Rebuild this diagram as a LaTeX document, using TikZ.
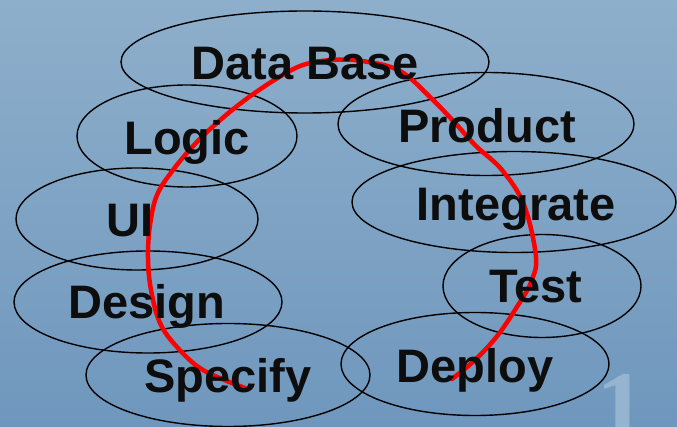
\documentclass[tikz,border=0pt]{standalone}
\usepackage{fontspec}
\setmainfont{Liberation Sans}
\newfontfamily\numfont{Liberation Serif}
\usetikzlibrary{shapes.geometric}
\definecolor{bgtop}{HTML}{8EAFCB}
\definecolor{bgbot}{HTML}{6F97BD}
\definecolor{numcol}{HTML}{95B4D0}
\begin{document}
\begin{tikzpicture}[x=1pt,y=-1pt,
  ring/.style={draw=black,line width=1.4pt,ellipse,inner sep=0pt},
  word/.style={anchor=base,inner sep=0pt,font=\fontsize{47}{47}\selectfont\bfseries,text=black!95}]
\useasboundingbox (0,0) rectangle (677,427);
\shade[top color=bgtop,bottom color=bgbot] (0,0) rectangle (677,427);
\node[anchor=base west,inner sep=0pt,text=numcol,font=\fontsize{100}{100}\selectfont\numfont\bfseries] (num) at (596,440) {1};
% ellipses
\node[ring,minimum width=368pt,minimum height=102pt] (eDB) at (305,62) {};
\node[ring,minimum width=220pt,minimum height=102pt] (eLo) at (187,136) {};
\node[ring,minimum width=296pt,minimum height=103pt] (ePr) at (486,124) {};
\node[ring,minimum width=242pt,minimum height=102pt] (eUI) at (137,219) {};
\node[ring,minimum width=324pt,minimum height=101pt] (eIn) at (514,202) {};
\node[ring,minimum width=198pt,minimum height=103pt] (eTe) at (542,286) {};
\node[ring,minimum width=268pt,minimum height=102pt] (eDe) at (148,302) {};
\node[ring,minimum width=284pt,minimum height=103pt] (eSp) at (228,375) {};
\node[ring,minimum width=268pt,minimum height=103pt] (eDp) at (475,364) {};
% red path
\draw[red,line width=4.5pt,line cap=round] plot[smooth,tension=0.6] coordinates {
 (245,388) (203,370) (177,347) (160,323) (151,290) (148,258) (150,225) (157,195)
 (173,170) (195,144) (218,122) (245,100) (276,79) (303,65) (332,60) (362,61)
 (400,71) (432,99) (456,124) (476,146) (502,170) (524,205) (536,257) (531,282)
 (520,302) (498,335) (475,360) (452,379)};
% labels
\node[word] (tDB) at (305,80) {Data Base};
\node[word] (tLo) at (187,155) {Logic};
\node[word] (tPr) at (487,143) {Product};
\node[word] (tUI) at (130,237) {UI};
\node[word] (tIn) at (516,221) {Integrate};
\node[word] (tTe) at (536,303) {Test};
\node[word] (tDe) at (147,319) {Design};
\node[word] (tSp) at (228,392) {Specify};
\node[word] (tDp) at (475,382) {Deploy};
\end{tikzpicture}
\end{document}
